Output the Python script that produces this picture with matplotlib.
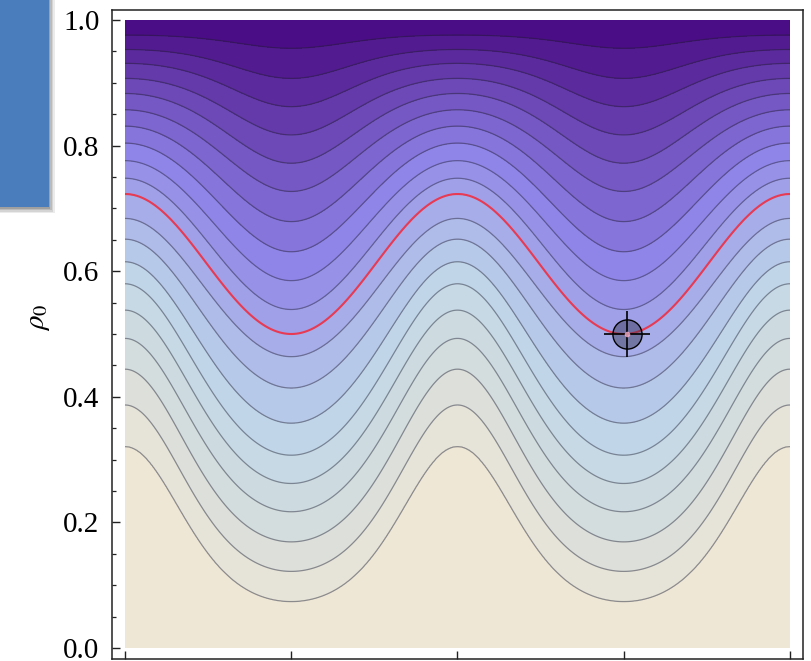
import numpy as np
import matplotlib
matplotlib.use("Agg")
import matplotlib.pyplot as plt
from matplotlib.colors import LinearSegmentedColormap
from matplotlib.patches import Rectangle

# Contour heights (rho_0) at the crests (phase 0, 2, 4) and troughs (phase 1, 3),
# listed from the lowest contour to the highest.
crest_rho = [0.321, 0.387, 0.444, 0.493, 0.538, 0.580, 0.615, 0.651, 0.684, 0.723,
             0.748, 0.776, 0.804, 0.831, 0.857, 0.883, 0.907, 0.931, 0.953, 0.976]
trough_rho = [0.074, 0.122, 0.169, 0.217, 0.262, 0.307, 0.358, 0.414, 0.464, 0.500,
              0.539, 0.585, 0.631, 0.679, 0.727, 0.772, 0.817, 0.862, 0.907, 0.955]
highlight_index = 9          # contour drawn in red
target_x, target_rho = 3.02, 0.5
x_ticks = [0, 1, 2, 3, 4]
y_ticks = [0.0, 0.2, 0.4, 0.6, 0.8, 1.0]
y_minor_ticks = [0.05, 0.1, 0.15, 0.25, 0.3, 0.35, 0.45, 0.5, 0.55,
                 0.65, 0.7, 0.75, 0.85, 0.9, 0.95]
y_ticklabels = ["0.0", "0.2", "0.4", "0.6", "0.8", "1.0"]

W, H = 812, 661
fig = plt.figure(figsize=(W / 100, H / 100), dpi=100)
ax = fig.add_axes([112 / W, 2 / H, 691 / W, 649 / H])

# Build a field whose level sets follow the listed contours.
# Lower contours have narrow crests / broad troughs, upper ones the reverse.
n = len(crest_rho)
xs = np.linspace(0, 4, 801)
rs = np.linspace(0, 1, 801)
crest = np.array(crest_rho)
trough = np.array(trough_rho)
phase = (1 + np.cos(np.pi * xs)) / 2
skew = np.linspace(-1.6, 1.6, n)[:, None]
skew = np.where(np.abs(skew) < 1e-6, 1e-6, skew)
profile = (1 - np.exp(-skew * phase[None, :])) / (1 - np.exp(-skew))
curves = trough[:, None] + (crest - trough)[:, None] * profile
levels = np.arange(1, n + 1)
Z = np.empty((rs.size, xs.size))
for j in range(xs.size):
    Z[:, j] = np.interp(rs, np.r_[0.0, curves[:, j], 1.0], np.r_[0, levels, n + 1])

lake = LinearSegmentedColormap.from_list("lake", [
    (0.00, (0.29, 0.05, 0.52)),
    (0.40, (0.56, 0.52, 0.91)),
    (0.70, (0.75, 0.84, 0.91)),
    (0.90, (0.86, 0.875, 0.855)),
    (1.00, (0.937, 0.905, 0.84)),
])
band_colors = [lake((n - i) / n) for i in range(n + 1)]

ax.contourf(xs, rs, Z, levels=np.r_[-1, levels, n + 2], colors=band_colors)
ax.contour(xs, rs, Z, levels=[l for k, l in enumerate(levels) if k != highlight_index],
           colors="#202030", alpha=0.45, linewidths=0.9)
ax.contour(xs, rs, Z, levels=[levels[highlight_index]], colors="#e83a52", linewidths=1.5)

# Target marker
ax.plot(target_x, target_rho, "o", ms=21, mfc=(0.2, 0.2, 0.3, 0.45), mec="k", mew=1.0)
ax.plot(target_x, target_rho, "+", ms=33, mec="k", mew=1.2)
ax.plot(target_x, target_rho, "o", ms=4, mfc=(1, 0.7, 0.8, 0.8), mec="none")

ax.set_xlim(-13 / 166.25, 4 + 13 / 166.25)
ax.set_ylim(-11 / 628, 1 + 10 / 628)
ax.set_xticks(x_ticks)
ax.set_xticklabels([])
ax.set_yticks(y_ticks)
ax.set_yticks(y_minor_ticks, minor=True)
ax.set_yticklabels(y_ticklabels, fontfamily="Liberation Serif", fontsize=21)
ax.tick_params(which="both", direction="in", top=False, right=False, color="#222222")
ax.tick_params(which="major", length=5.5, width=1.0, pad=9)
ax.tick_params(which="minor", length=3.2, width=0.9)
for sp in ax.spines.values():
    sp.set_color("#222222")
    sp.set_linewidth(1.1)

fig.text(38 / W, 1 - 317 / H, r"$\rho_0$", rotation=90, ha="center", va="center",
         fontsize=21, math_fontfamily="stix")

# Blue panel with a soft shadow in the upper-left corner
for k, a in enumerate([0.10, 0.13, 0.17, 0.22]):
    off = 6 - 1.5 * k
    fig.patches.append(Rectangle((0, (H - 207 - off) / H), (49 + off) / W, (207 + off) / H,
                                 transform=fig.transFigure, facecolor=(0.25, 0.25, 0.25, a),
                                 edgecolor="none"))
fig.patches.append(Rectangle((0, (H - 207) / H), 49 / W, 207 / H, transform=fig.transFigure,
                             facecolor="#4a7dbb", edgecolor="none"))

fig.savefig("out.png", dpi=100)
